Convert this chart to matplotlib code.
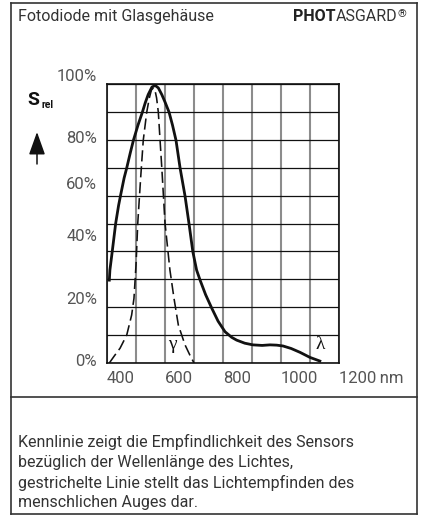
import matplotlib.pyplot as plt
from matplotlib.lines import Line2D

# sensor curve (solid)
sensor_nm = [408, 410, 418, 430, 440, 447, 459, 468, 480, 491, 507, 522, 532,
             542, 555, 566, 577, 589, 601, 614, 626, 638, 652, 669, 683, 696,
             709, 721, 740, 761, 783, 807, 830, 847, 875, 903, 935, 962, 985,
             1007, 1035, 1066, 1100, 1134]
sensor_rel = [29.7, 33.3, 39.9, 50.1, 56.5, 60.2, 66.3, 69.9, 75.2, 79.8, 85.3,
              89.9, 93.3, 96.2, 98.9, 99.5, 98.6, 96.2, 93.3, 89.9, 85.2, 79.8,
              69.9, 59.9, 49.8, 39.9, 33.3, 29.7, 24.5, 19.7, 15.0, 11.2, 9.2,
              8.2, 7.1, 6.5, 6.3, 6.5, 6.4, 6.1, 5.2, 3.8, 2.0, 0.7]

# human eye curve (dashed)
eye_nm = [408, 425, 445, 468, 485, 493, 500, 506, 516, 525, 537, 546, 553, 560,
          566, 571, 577, 583, 589, 600, 617, 631, 646, 669, 685, 700]
eye_rel = [0, 2.5, 5.3, 10, 17.2, 23.2, 35, 50, 66.3, 79.8, 89.9, 95, 97.8,
           98.6, 97.5, 95, 89.9, 79.8, 69.9, 50.2, 33.3, 23.2, 13.6, 6.5, 3, 0]

x_ticks = [400, 600, 800, 1000, 1200]
x_labels = ["400", "600", "800", "1000", "1200\u2009nm"]
y_ticks = [0, 20, 40, 60, 80, 100]
y_labels = ["0%", "20%", "40%", "60%", "80%", "100%"]

title = "Fotodiode mit Glasgehäuse"
caption = ("Kennlinie zeigt die Empfindlichkeit des Sensors\n"
           "bezüglich der Wellenlänge des Lichtes,\n"
           "gestrichelte Linie stellt das Lichtempfinden des\n"
           "menschlichen Auges dar.")

W, H = 423, 516
plt.rcParams['font.family'] = ['Roboto', 'DejaVu Sans']


def fx(px):
    return px / W


def fy(py):
    return 1 - py / H


fig = plt.figure(figsize=(W / 100, H / 100), dpi=100)
ax = fig.add_axes([fx(107), fy(363), 232 / W, 279 / H])

ax.plot(sensor_nm, sensor_rel, color='#111111', lw=2.0,
        solid_joinstyle='round', zorder=3)
ax.plot(eye_nm, eye_rel, color='#111111', lw=1.15, dashes=(7, 3), zorder=3)

ax.set_xlim(400, 1200)
ax.set_ylim(0, 100)
ax.set_xticks(range(400, 1201, 100))
ax.set_xticklabels([x_labels[x_ticks.index(t)] if t in x_ticks else ""
                    for t in range(400, 1201, 100)])
for lbl in ax.get_xticklabels():
    lbl.set_ha('left')
ax.set_yticks(range(0, 101, 10))
ax.set_yticklabels([])
ax.tick_params(axis='x', length=0, pad=6, labelsize=12, labelcolor='#555555')
ax.tick_params(axis='y', length=0)
ax.grid(axis='x', color='#8c8c8c', lw=1.5)
ax.grid(axis='y', color='#111111', lw=0.9)
ax.set_axisbelow(True)
for s in ax.spines.values():
    s.set_color('#111111')
    s.set_linewidth(1.2)

# y labels sit a bit off the grid lines in the original
label_shift = [0.7, 2.6, 5.3, 3.8, 0.5, 2.7]
for v, t, d in zip(y_ticks, y_labels, label_shift):
    ax.text(-0.043, (v + d) / 100, t, transform=ax.transAxes, ha='right',
            va='center', fontsize=12, color='#555555')

ax.text(624, 6.5, "γ", fontsize=14, family='Liberation Serif',
        ha='center', va='center', color='#111111')
ax.text(1134, 6.5, "λ", fontsize=14, family='Liberation Serif',
        ha='center', va='center', color='#111111')

# S_rel with upward arrow
fig.text(fx(27), fy(100), "S", fontsize=14, fontweight='bold',
         ha='left', va='center', color='#111111')
fig.text(fx(41.5), fy(105.5), "rel", fontsize=7.5, fontweight='bold',
         ha='left', va='center', color='#111111')
ax.annotate("", xy=(fx(37), fy(132)), xytext=(fx(37), fy(164)),
            xycoords='figure fraction', textcoords='figure fraction',
            arrowprops=dict(arrowstyle='-|>,head_length=1.4,head_width=0.5',
                            mutation_scale=10, color='#111111', lw=1.1,
                            shrinkA=0, shrinkB=0))

# header
fig.text(fx(18), fy(16.5), title, fontsize=11.5, color='#333333',
         ha='left', va='center')
t1 = fig.text(fx(293), fy(16.5), "PHOT", fontsize=11.5, fontweight='bold',
              color='#222222', ha='left', va='center')
t2 = ax.annotate("ASGARD", xy=(1, 0), xycoords=t1, fontsize=11.5,
                 color='#333333', ha='left', va='bottom',
                 annotation_clip=False)
ax.annotate("®", xy=(1, 1), xycoords=t2, fontsize=8, color='#333333',
            ha='left', va='top', annotation_clip=False)

# caption
fig.text(fx(18), fy(434), caption, fontsize=11.5, color='#333333',
         ha='left', va='top', linespacing=1.38)

# frame
frame = dict(color='#333333', lw=1.2)
fig.add_artist(Line2D([fx(11), fx(417)], [fy(3), fy(3)], **frame))
fig.add_artist(Line2D([fx(11), fx(417)], [fy(397), fy(397)], **frame))
fig.add_artist(Line2D([fx(11), fx(417)], [fy(514), fy(514)], **frame))
fig.add_artist(Line2D([fx(11), fx(11)], [fy(3), fy(514)], **frame))
fig.add_artist(Line2D([fx(417), fx(417)], [fy(3), fy(514)], **frame))

fig.savefig("out.png", dpi=100)
